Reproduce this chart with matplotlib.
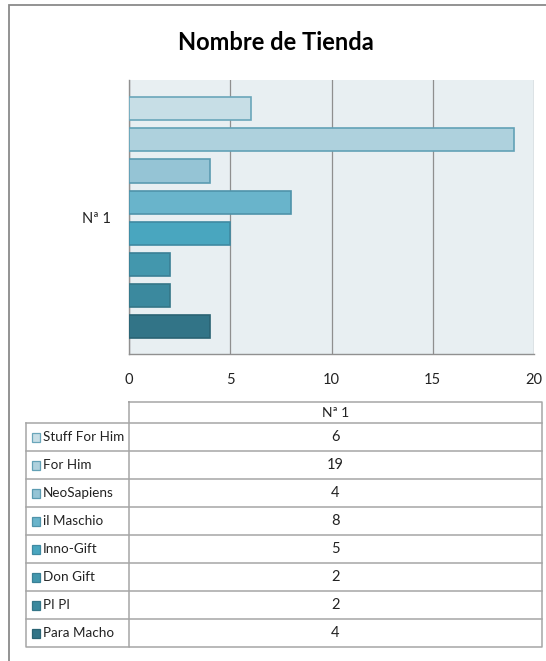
import matplotlib
matplotlib.use("Agg")
import matplotlib.pyplot as plt
from matplotlib.patches import Rectangle

# Data
title = "Nombre de Tienda"
series_name = "Nª 1"
stores = ["Stuff For Him", "For Him", "NeoSapiens", "il Maschio",
          "Inno-Gift", "Don Gift", "PI PI", "Para Macho"]
values = [6, 19, 4, 8, 5, 2, 2, 4]
x_ticks = [0, 5, 10, 15, 20]

# Styling
face_colors = ["#c7dee6", "#aed1dd", "#95c4d5", "#69b4cb",
               "#49a6bf", "#4397ad", "#3b899e", "#327487"]
edge_colors = ["#6aa6ba", "#62a1b6", "#5b9bb1", "#4f93aa",
               "#3f8aa2", "#3a8096", "#347688", "#2a6373"]
plt.rcParams["font.family"] = ["Lato", "DejaVu Sans"]

W, H = 546, 661
fig = plt.figure(figsize=(W / 100, H / 100), dpi=100)


def fx(px):
    return px / W


def fy(py):
    return 1 - py / H


# Bar chart area
left, right, top, bottom = 129, 534, 80, 354
ax = fig.add_axes([fx(left), fy(bottom), fx(right - left), (bottom - top) / H])
ax.set_facecolor("#e8eff2")
ypos = list(range(len(values)))
ax.barh(ypos, values, height=0.74, color=face_colors, edgecolor=edge_colors,
        linewidth=1.2, zorder=3)
ax.set_xlim(0, 20)
ax.set_ylim(7.873, -0.921)
ax.set_xticks(x_ticks)
ax.set_xticklabels([str(t) for t in x_ticks], fontsize=10.5, color="#222222")
ax.tick_params(axis="x", length=0, pad=14)
ax.set_yticks([3.5])
ax.set_yticklabels([series_name], fontsize=10.5, color="#222222")
ax.tick_params(axis="y", length=0, pad=13)
ax.xaxis.grid(True, color="#8f8f8f", linewidth=0.9, zorder=1)
ax.set_axisbelow(True)
for side in ["top", "right"]:
    ax.spines[side].set_visible(False)
for side in ["left", "bottom"]:
    ax.spines[side].set_color("#909090")
    ax.spines[side].set_linewidth(1.0)

# Overlay for the title, the frame and the data table (pixel coordinates)
ov = fig.add_axes([0, 0, 1, 1], zorder=5)
ov.set_xlim(0, W)
ov.set_ylim(H, 0)
ov.axis("off")
ov.patch.set_alpha(0)

# Outer frame
ov.plot([9, 9, W + 5], [H + 5, 5, 5], color="#8a8a8a", linewidth=1.3,
        solid_joinstyle="miter")

ov.text(276, 42, title, ha="center", va="center", fontsize=17,
        fontweight="bold", color="#000000")

# Data table
line_c = "#a6a6a6"
tx0, tx1, tx2 = 26, 129, 542
head_top, head_bot = 401.5, 423.3
row_h = (647 - head_bot) / len(stores)

ov.plot([tx1, tx2, tx2, tx1, tx1], [head_top, head_top, 647, 647, head_top],
        color=line_c, linewidth=1.1)
ov.plot([tx0, tx2], [head_bot, head_bot], color=line_c, linewidth=1.1)
ov.plot([tx0, tx0, tx1], [head_bot, 647, 647], color=line_c, linewidth=1.1)
ov.text((tx1 + tx2) / 2, (head_top + head_bot) / 2 + 0.5, series_name,
        ha="center", va="center", fontsize=10, color="#222222")

for i, (name, val) in enumerate(zip(stores, values)):
    y0 = head_bot + i * row_h
    yc = y0 + row_h / 2
    if i > 0:
        ov.plot([tx0, tx2], [y0, y0], color=line_c, linewidth=1.1)
    ov.add_patch(Rectangle((32, yc - 4.5), 8, 9, facecolor=face_colors[i],
                           edgecolor=edge_colors[i], linewidth=0.9))
    ov.text(43, yc, name, ha="left", va="center", fontsize=9.7,
            color="#222222")
    ov.text((tx1 + tx2) / 2, yc, str(val), ha="center", va="center",
            fontsize=10.5, color="#222222")

fig.savefig("out.png", dpi=100)
